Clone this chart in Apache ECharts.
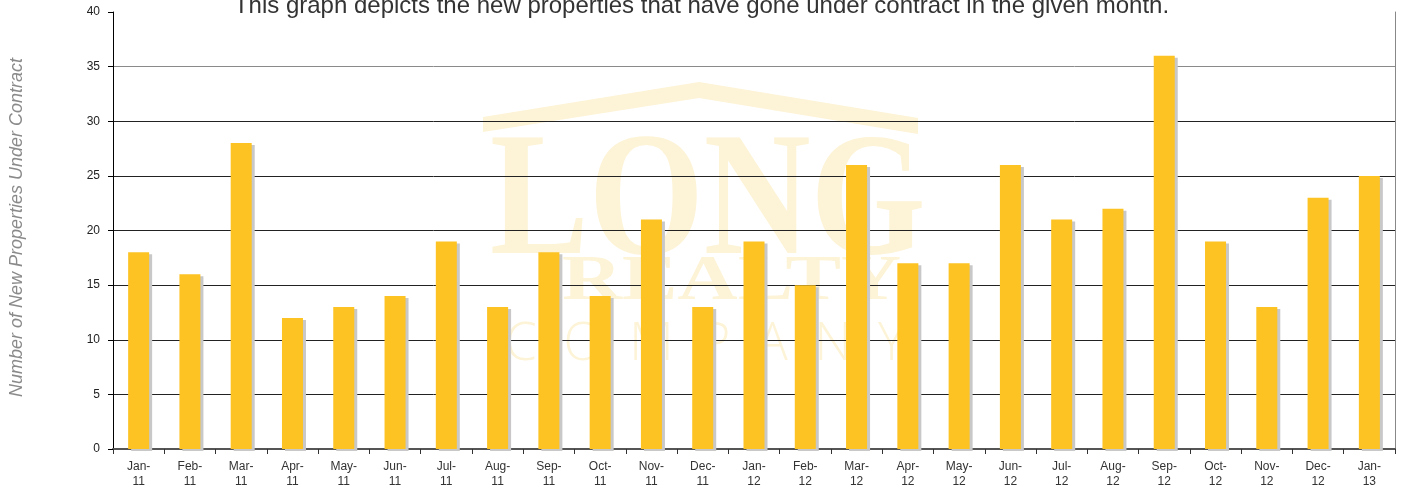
<!DOCTYPE html>
<html>
<head>
<meta charset="utf-8">
<script src="https://cdn.jsdelivr.net/npm/echarts@6/dist/echarts.min.js"></script>
<style>
  html, body { margin: 0; padding: 0; background: #fff; }
  #chart { width: 1403px; height: 491px; }
</style>
</head>
<body>
<div id="chart"></div>
<script>
// months shown on the x axis
const months = [
    'Jan-\n11', 'Feb-\n11', 'Mar-\n11', 'Apr-\n11', 'May-\n11', 'Jun-\n11',
    'Jul-\n11', 'Aug-\n11', 'Sep-\n11', 'Oct-\n11', 'Nov-\n11', 'Dec-\n11',
    'Jan-\n12', 'Feb-\n12', 'Mar-\n12', 'Apr-\n12', 'May-\n12', 'Jun-\n12',
    'Jul-\n12', 'Aug-\n12', 'Sep-\n12', 'Oct-\n12', 'Nov-\n12', 'Dec-\n12',
    'Jan-\n13'
]
// new properties under contract each month
const underContract = [
    18, 16, 28, 12, 13, 14, 19, 13, 18, 14, 21, 13,
    19, 15, 26, 17, 17, 26, 21, 22, 36, 19, 13, 23, 25
]
// y axis range
const yMin = 0
const yMax = 40
const yStep = 5

const titleText = 'This graph depicts the new properties that have gone under contract in the given month.'
const yName = 'Number of New Properties Under Contract'

const myChart = echarts.init(document.getElementById('chart'));

// faded logo behind the bars
const wm = '#fdf3d6'
const watermark = [
    {
        type: 'polygon', z: -10, silent: true,
        shape: { points: [[483, 117], [699, 82], [918, 118], [918, 134], [699, 98], [483, 132]] },
        style: { fill: wm }
    },
    {
        type: 'text', z: -10, silent: true, x: 490, y: 120, scaleX: 0.86, scaleY: 1.02,
        style: { text: 'LONG', fill: wm, font: 'bold 172px "Liberation Serif"' }
    },
    {
        type: 'text', z: -10, silent: true, x: 562, y: 250, scaleX: 1.3,
        style: { text: 'REALTY', fill: wm, font: 'bold 64px "Liberation Serif"' }
    },
    {
        type: 'text', z: -10, silent: true, x: 505, y: 318, scaleX: 0.95,
        style: { text: 'C  O  M  P  A  N  Y', fill: wm, font: '300 54px "Open Sans"' }
    }
]

// 35 line is grey, 40 line is not drawn
const splitColors = ['#222', '#222', '#222', '#222', '#222', '#222', '#222', '#8a8a8a', 'rgba(0,0,0,0)']

let option = {
    animation: false,
    backgroundColor: '#fff',
    textStyle: { fontFamily: '"Liberation Sans", Arial, sans-serif' },
    title: {
        text: titleText,
        left: 'center',
        top: -11,
        textStyle: { fontSize: 24, fontWeight: 'normal', color: '#333' }
    },
    graphic: watermark,
    grid: {
        left: 113,
        right: 8,
        top: 12,
        bottom: 42,
        outerBoundsMode: 'none',
        containLabel: false
    },
    xAxis: {
        type: 'category',
        data: months,
        axisLine: { lineStyle: { color: '#555', width: 2 } },
        axisTick: { show: true, length: 5, lineStyle: { color: '#333' } },
        axisLabel: { color: '#333', fontSize: 12, lineHeight: 15, margin: 10, interval: 0 }
    },
    yAxis: [
        {
            type: 'value',
            min: yMin,
            max: yMax,
            interval: yStep,
            name: yName,
            nameLocation: 'middle',
            nameRotate: 90,
            nameGap: 87,
            nameTextStyle: { color: '#8a8a8a', fontStyle: 'italic', fontSize: 18, padding: [0, 0, 0, 6] },
            axisLine: { show: true, lineStyle: { color: '#000' } },
            axisTick: { show: true, length: 5, lineStyle: { color: '#000' } },
            axisLabel: { color: '#222', fontSize: 12, margin: 13 },
            splitLine: { show: true, lineStyle: { color: splitColors, width: 1 } }
        },
        {
            type: 'value',
            min: yMin,
            max: yMax,
            interval: yStep,
            position: 'right',
            axisLine: { show: true, lineStyle: { color: '#888' } },
            axisTick: { show: false },
            axisLabel: { show: false },
            splitLine: { show: false }
        }
    ],
    series: [
        {
            type: 'bar',
            data: underContract,
            barWidth: 21,
            itemStyle: {
                color: '#fdc323',
                shadowColor: '#c8c8c8',
                shadowBlur: 0,
                shadowOffsetX: 3,
                shadowOffsetY: 2
            }
        }
    ]
};
option && myChart.setOption(option);
</script>
</body>
</html>
